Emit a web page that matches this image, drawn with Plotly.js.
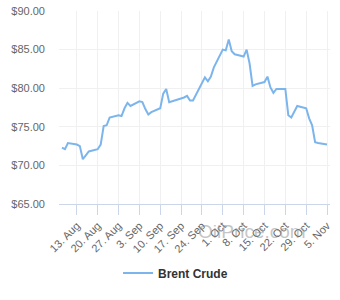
<!DOCTYPE html>
<html>
<head>
<meta charset="utf-8">
<script src="https://cdn.plot.ly/plotly-3.0.1.min.js"></script>
<style>html,body{margin:0;padding:0;background:#fff;}#chart{width:340px;height:300px;}</style>
</head>
<body>
<div id="chart"></div>
<script>
const dates = [
  '2018-08-08','2018-08-09','2018-08-10',
  '2018-08-13','2018-08-14','2018-08-15','2018-08-16','2018-08-17',
  '2018-08-20','2018-08-21','2018-08-22','2018-08-23','2018-08-24',
  '2018-08-27','2018-08-28','2018-08-29','2018-08-30','2018-08-31',
  '2018-09-03','2018-09-04','2018-09-05','2018-09-06','2018-09-07',
  '2018-09-10','2018-09-11','2018-09-12','2018-09-13','2018-09-14',
  '2018-09-17','2018-09-18','2018-09-19','2018-09-20','2018-09-21',
  '2018-09-24','2018-09-25','2018-09-26','2018-09-27','2018-09-28',
  '2018-10-01','2018-10-02','2018-10-03','2018-10-04','2018-10-05',
  '2018-10-08','2018-10-09','2018-10-10','2018-10-11','2018-10-12',
  '2018-10-15','2018-10-16','2018-10-17','2018-10-18','2018-10-19',
  '2018-10-22','2018-10-23','2018-10-24','2018-10-25','2018-10-26',
  '2018-10-29','2018-10-30','2018-10-31','2018-11-01','2018-11-02',
  '2018-11-05'
];
const brentCrude = [
  72.3, 72.1, 72.9,
  72.7, 72.5, 70.8, 71.3, 71.8,
  72.1, 72.7, 75.1, 75.2, 76.2,
  76.5, 76.4, 77.4, 78.1, 77.7,
  78.3, 78.2, 77.3, 76.6, 76.9,
  77.4, 79.3, 79.9, 78.2, 78.3,
  78.6, 78.8, 79.0, 78.4, 78.4,
  80.6, 81.4, 80.9, 81.5, 82.7,
  85.0, 84.9, 86.3, 84.8, 84.4,
  84.1, 85.0, 83.2, 80.3, 80.5,
  80.8, 81.5, 80.1, 79.4, 79.9,
  79.9, 76.5, 76.2, 77.0, 77.7,
  77.4, 76.1, 75.2, 73.0, 72.9,
  72.7
];
const seriesName = 'Brent Crude';
const watermark = 'OilPrice.com';

const font = 'Liberation Sans, Arial, sans-serif';
const data = [{
  x: dates, y: brentCrude, type: 'scatter', mode: 'lines', name: seriesName,
  line: {color: '#7cb5ec', width: 2}
}];
const layout = {
  width: 340, height: 300,
  margin: {l: 59, r: 10, t: 11, b: 96},
  paper_bgcolor: '#fff', plot_bgcolor: '#fff',
  font: {family: font, color: '#666666', size: 11},
  showlegend: true,
  legend: {orientation: 'h', x: 0.43, xanchor: 'center', y: -0.357, yanchor: 'middle',
    font: {family: font, size: 12, color: '#333333', weight: 'bold'}},
  xaxis: {
    type: 'date', range: ['2018-08-07', '2018-11-06'],
    tick0: '2018-08-13', dtick: 7 * 86400000, tickformat: '%-d. %b',
    tickangle: -45, ticks: 'outside', ticklen: 10, tickcolor: '#ccd6eb', tickwidth: 1,
    showline: true, linecolor: '#ccd6eb', linewidth: 1,
    showgrid: true, gridcolor: '#f0f0f0', gridwidth: 1, zeroline: false,
    tickfont: {family: font, size: 11, color: '#666666'}
  },
  yaxis: {
    range: [65, 90], dtick: 5, tick0: 65, tickprefix: '$', tickformat: '.2f',
    showgrid: true, gridcolor: '#f0f0f0', gridwidth: 1, zeroline: false,
    showline: false, ticks: '', ticklabelstandoff: 13,
    tickfont: {family: font, size: 11, color: '#666666'}
  },
  annotations: [{
    text: watermark, xref: 'paper', yref: 'paper', x: 0.712, y: -0.14,
    xanchor: 'center', yanchor: 'middle', showarrow: false,
    font: {family: font, size: 19, color: 'rgba(140,140,140,0.5)'}
  }]
};
Plotly.newPlot('chart', data, layout, {displayModeBar: false, staticPlot: true});
</script>
</body>
</html>
